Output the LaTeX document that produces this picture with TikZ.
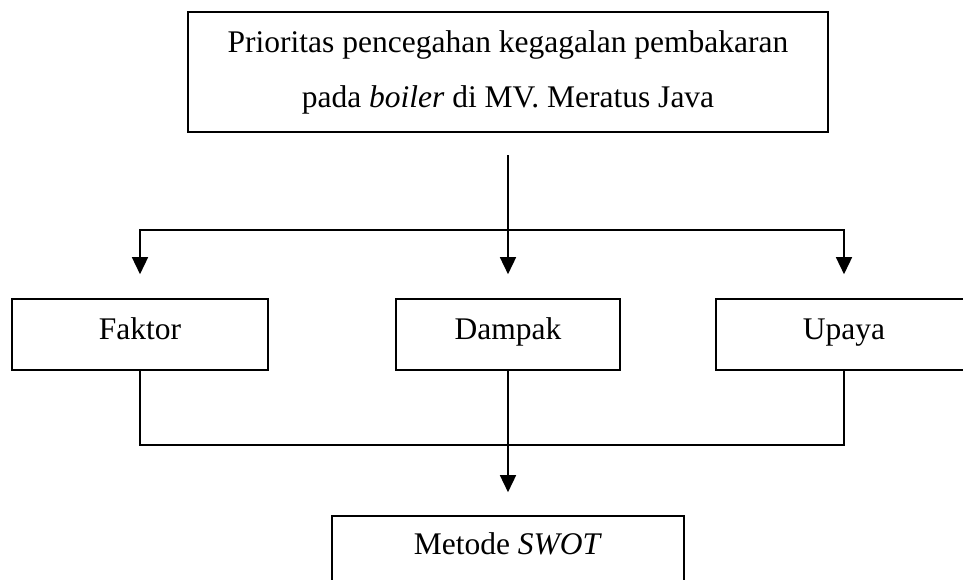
\documentclass[tikz,border=0pt]{standalone}
\usepackage{fontspec}
\setmainfont{Liberation Serif}
\usetikzlibrary{arrows.meta}
\begin{document}
\begin{tikzpicture}[x=1pt,y=-1pt,
  box/.style={draw,line width=1.6pt,inner sep=0pt,font=\fontsize{31.5}{38}\selectfont},
  small/.style={box,minimum height=71pt,text height=21pt,text depth=12pt},
  conn/.style={line width=1.5pt},
  arr/.style={conn,-{Triangle[width=16pt,length=17pt]}}]
\useasboundingbox (0,0) rectangle (963,579);
\node[box,minimum width=640pt,minimum height=120pt,align=center,
      font=\fontsize{31.5}{55}\selectfont] (top) at (508,72)
  {Prioritas pencegahan kegagalan pembakaran\\pada \textit{boiler} di MV. Meratus Java};
\node[small,minimum width=256pt] (faktor) at (140,334.5) {Faktor};
\node[small,minimum width=224pt] (dampak) at (508,334.5) {Dampak};
\node[small,minimum width=256pt] (upaya) at (844,334.5) {Upaya};
\node[small,minimum width=352pt,text depth=16pt] (metode) at (508,551.5) {Metode \textit{SWOT}};
\coordinate (stem) at (508,155);
\coordinate (split) at (508,230);
\coordinate (join) at (508,445);
\draw[conn] (stem) -- (split);
\draw[arr] (split) -| ([yshift=24pt]faktor.north);
\draw[arr] (split) -| ([yshift=24pt]upaya.north);
\draw[arr] (split) -- ([yshift=24pt]dampak.north);
\draw[conn] (faktor.south) |- (join) -| (upaya.south);
\draw[conn] (dampak.south) -- (join);
\draw[arr] (join) -- ([yshift=23pt]metode.north);
\end{tikzpicture}
\end{document}
